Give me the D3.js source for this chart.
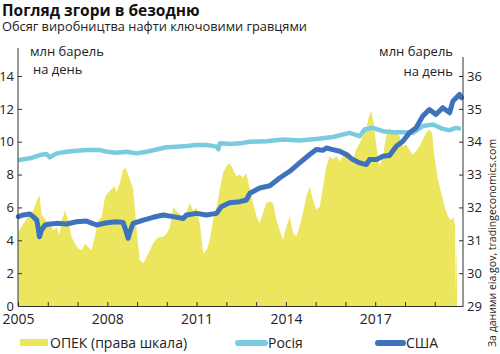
<!DOCTYPE html>
<html>
<head>
<meta charset="utf-8">
<script src="https://cdn.jsdelivr.net/npm/d3@7"></script>
<style>
  body { margin: 0; background: #fff; }
  svg { display: block; font-family: "Open Sans", sans-serif; }
</style>
</head>
<body>
<div id="chart"></div>
<script>
// OPEC, right scale (mb/d)
var opecDates = [2005.01, 2005.18, 2005.40, 2005.51, 2005.63, 2005.72, 2005.79, 2005.85, 2005.96, 2006.07,
    2006.19, 2006.30, 2006.39, 2006.47, 2006.58, 2006.69, 2006.80, 2006.91, 2007.02, 2007.14,
    2007.25, 2007.36, 2007.47, 2007.58, 2007.70, 2007.81, 2007.92, 2008.03, 2008.14, 2008.25,
    2008.31, 2008.42, 2008.53, 2008.62, 2008.76, 2008.87, 2008.98, 2009.09, 2009.21, 2009.32,
    2009.43, 2009.54, 2009.65, 2009.77, 2009.88, 2009.99, 2010.10, 2010.21, 2010.32, 2010.44,
    2010.55, 2010.66, 2010.77, 2010.88, 2011.00, 2011.11, 2011.22, 2011.33, 2011.44, 2011.55,
    2011.67, 2011.78, 2011.89, 2012.00, 2012.11, 2012.23, 2012.34, 2012.45, 2012.56, 2012.67,
    2012.79, 2012.90, 2013.01, 2013.12, 2013.23, 2013.34, 2013.46, 2013.57, 2013.68, 2013.79,
    2013.90, 2014.02, 2014.13, 2014.24, 2014.35, 2014.46, 2014.57, 2014.69, 2014.80, 2014.91,
    2015.02, 2015.14, 2015.25, 2015.36, 2015.47, 2015.58, 2015.70, 2015.81, 2015.92, 2016.03,
    2016.14, 2016.25, 2016.36, 2016.48, 2016.59, 2016.70, 2016.79, 2016.87, 2016.95, 2017.04,
    2017.15, 2017.26, 2017.37, 2017.48, 2017.59, 2017.71, 2017.82, 2017.93, 2018.04, 2018.15,
    2018.26, 2018.37, 2018.49, 2018.60, 2018.71, 2018.82, 2018.91, 2018.99, 2019.11, 2019.22,
    2019.33, 2019.44, 2019.55, 2019.63, 2019.68, 2019.71, 2019.75]
var opecValues = [31.25, 31.5, 31.8, 31.9, 32.2, 32.38, 31.8, 31.7, 31.6, 31.5,
    31.3, 31.4, 31.15, 31.6, 31.9, 31.6, 31.1, 30.9, 30.75, 30.7,
    30.9, 30.8, 30.7, 31.1, 31.6, 31.7, 32.3, 32.45, 32.55, 32.65,
    32.45, 32.75, 33.15, 33.2, 32.85, 32.55, 31.4, 30.4, 30.3, 30.5,
    30.7, 30.9, 31.05, 31.1, 31.1, 31.2, 31.4, 32.0, 31.9, 31.8,
    31.6, 31.85, 32.15, 31.9, 32.0, 31.5, 30.6, 30.7, 31.0, 31.6,
    32.0, 32.55, 33.05, 33.25, 33.35, 33.15, 32.95, 33.0, 32.9, 33.05,
    32.54, 32.13, 31.73, 31.52, 31.83, 32.13, 32.18, 32.13, 31.62, 31.32,
    31.01, 31.42, 31.73, 31.22, 31.12, 31.42, 31.83, 32.34, 32.64, 32.23,
    31.93, 32.03, 32.64, 33.25, 33.56, 33.46, 33.56, 33.40, 33.56, 33.71,
    33.66, 33.46, 33.76, 33.96, 34.17, 34.37, 34.78, 34.93, 34.57, 33.86,
    33.25, 33.56, 34.17, 34.42, 34.27, 34.37, 34.17, 33.86, 33.91, 33.76,
    33.61, 33.71, 33.86, 34.07, 34.27, 34.37, 34.27, 33.56, 32.85, 32.44,
    32.03, 31.73, 31.62, 31.7, 31.45, 29.4, 31.0]

// Russia, left scale
var russiaDates = [2005.01, 2005.40, 2005.74, 2005.96, 2006.07, 2006.30, 2006.63, 2006.97, 2007.30, 2007.75,
    2007.98, 2008.31, 2008.65, 2008.98, 2009.32, 2009.65, 2009.99, 2010.32, 2010.66, 2011.00,
    2011.33, 2011.67, 2011.73, 2011.78, 2012.11, 2012.45, 2012.79, 2013.35, 2013.90, 2014.46,
    2015.02, 2015.58, 2016.14, 2016.48, 2016.64, 2016.92, 2017.26, 2017.59, 2017.93, 2018.26,
    2018.60, 2018.94, 2019.27, 2019.50, 2019.72, 2019.88]
var russiaValues = [8.88, 8.99, 9.19, 9.25, 9.05, 9.29, 9.39, 9.45, 9.49, 9.49,
    9.39, 9.33, 9.39, 9.29, 9.39, 9.53, 9.66, 9.70, 9.74, 9.80,
    9.80, 9.70, 9.55, 9.90, 9.86, 9.90, 10.0, 10.03, 10.13, 10.07,
    10.17, 10.29, 10.54, 10.34, 10.74, 10.84, 10.64, 10.58, 10.58, 10.54,
    10.95, 11.05, 10.78, 10.70, 10.84, 10.78]

// USA, left scale
var usaDates = [2005.01, 2005.18, 2005.40, 2005.51, 2005.63, 2005.68, 2005.72, 2005.79, 2005.91, 2006.07,
    2006.30, 2006.63, 2006.97, 2007.30, 2007.64, 2007.98, 2008.31, 2008.53, 2008.62, 2008.70,
    2008.78, 2008.87, 2009.21, 2009.54, 2009.88, 2010.21, 2010.55, 2010.66, 2011.00, 2011.33,
    2011.67, 2011.83, 2012.11, 2012.45, 2012.67, 2012.79, 2013.12, 2013.46, 2013.79, 2014.13,
    2014.46, 2014.80, 2015.02, 2015.25, 2015.36, 2015.58, 2015.81, 2016.03, 2016.25, 2016.48,
    2016.70, 2016.81, 2017.04, 2017.26, 2017.48, 2017.71, 2017.93, 2018.15, 2018.37, 2018.60,
    2018.82, 2019.04, 2019.27, 2019.50, 2019.61, 2019.83, 2019.90]
var usaValues = [5.44, 5.54, 5.60, 5.44, 5.23, 4.73, 4.22, 4.62, 4.93, 4.99,
    5.03, 4.99, 5.13, 5.17, 4.93, 5.07, 5.13, 5.09, 4.62, 4.12,
    4.62, 5.03, 5.23, 5.40, 5.54, 5.44, 5.33, 5.54, 5.64, 5.54,
    5.64, 6.04, 6.29, 6.35, 6.45, 6.86, 7.18, 7.32, 7.79, 8.20,
    8.71, 9.22, 9.52, 9.48, 9.62, 9.52, 9.42, 9.22, 8.91, 8.71,
    8.61, 8.91, 8.91, 9.12, 9.16, 9.73, 10.03, 10.54, 10.84, 11.56,
    11.96, 11.66, 12.07, 11.76, 12.47, 12.88, 12.68]

var years = d3.range(2005, 2020)
var yearLabels = [2005, 2008, 2011, 2014, 2017]
var leftTicks = [0, 2, 4, 6, 8, 10, 12, 14]
var rightTicks = [29, 30, 31, 32, 33, 34, 35, 36]

var title = "Погляд згори в безодню"
var subtitle = "Обсяг виробництва нафти ключовими гравцями"
var unitLines = ["млн барель", "на день"]
var legendNames = ["ОПЕК (права шкала)", "Росія", "США"]
var source = "За даними eia.gov, tradingeconomics.com"

var colOpec = "#ece55e"
var colRussia = "#79cbe0"
var colUsa = "#3f72bd"

var width = 500
var height = 354
var margins = { top: 76, right: 37, bottom: 48, left: 18 }

var svg = d3.select("#chart").append("svg")
    .attr("width", width)
    .attr("height", height)

var x = d3.scaleLinear()
    .domain([2005, 2019.95])
    .range([margins.left, width - margins.right])
var yLeft = d3.scaleLinear()
    .domain([0, 14])
    .range([height - margins.bottom, margins.top])
var yRight = d3.scaleLinear()
    .domain([29, 36])
    .range([height - margins.bottom, margins.top])

var opec = opecDates.map((d, i) => ({ t: d, v: opecValues[i] }))
var russia = russiaDates.map((d, i) => ({ t: d, v: russiaValues[i] }))
var usa = usaDates.map((d, i) => ({ t: d, v: usaValues[i] }))

svg.append("path")
    .datum(opec)
    .attr("fill", colOpec)
    .attr("d", d3.area()
        .x(d => x(d.t))
        .y0(yRight(29))
        .y1(d => yRight(d.v)))

var lineLeft = d3.line()
    .x(d => x(d.t))
    .y(d => yLeft(d.v))

svg.append("path")
    .datum(russia)
    .attr("fill", "none")
    .attr("stroke", colRussia)
    .attr("stroke-width", 4.5)
    .attr("stroke-linejoin", "round")
    .attr("d", lineLeft)

svg.append("path")
    .datum(usa)
    .attr("fill", "none")
    .attr("stroke", colUsa)
    .attr("stroke-width", 5)
    .attr("stroke-linejoin", "round")
    .attr("stroke-linecap", "round")
    .attr("d", lineLeft)

// axes
var axisColor = "#333"
var gLeft = svg.append("g")
    .attr("transform", `translate(${margins.left},0)`)
    .call(d3.axisLeft(yLeft).tickValues(leftTicks).tickSize(-4).tickPadding(4).tickSizeOuter(0))
gLeft.select(".domain").remove()
svg.append("line")
    .attr("x1", margins.left).attr("x2", margins.left)
    .attr("y1", 48).attr("y2", yLeft(0))
    .attr("stroke", axisColor)

var gRight = svg.append("g")
    .attr("transform", `translate(${width - margins.right},0)`)
    .call(d3.axisRight(yRight).tickValues(rightTicks).tickSize(-4).tickPadding(4)
        .tickSizeOuter(0).tickFormat(d3.format("d")))
gRight.select(".domain").remove()
svg.append("line")
    .attr("x1", width - margins.right).attr("x2", width - margins.right)
    .attr("y1", 57).attr("y2", yRight(29))
    .attr("stroke", axisColor)

var gBottom = svg.append("g")
    .attr("transform", `translate(0,${height - margins.bottom})`)
    .call(d3.axisBottom(x).tickValues(years).tickSize(-4).tickPadding(8).tickSizeOuter(0)
        .tickFormat(d => yearLabels.includes(d) ? d : ""))

svg.selectAll(".tick line").attr("stroke", axisColor)
svg.selectAll(".domain").attr("stroke", axisColor)
svg.selectAll(".tick text")
    .attr("fill", "#222")
    .style("font-family", "Open Sans, sans-serif")
    .style("font-size", "13px")
gBottom.selectAll(".tick text").style("font-size", "14px")

// unit captions
svg.append("text")
    .attr("x", 30).attr("y", 56)
    .attr("font-size", 13).attr("fill", "#222")
    .text(unitLines[0])
svg.append("text")
    .attr("x", 33).attr("y", 74)
    .attr("font-size", 13).attr("fill", "#222")
    .text(unitLines[1])
svg.append("text")
    .attr("x", 453).attr("y", 56)
    .attr("text-anchor", "end")
    .attr("font-size", 13).attr("fill", "#222")
    .text(unitLines[0])
svg.append("text")
    .attr("x", 453).attr("y", 76)
    .attr("text-anchor", "end")
    .attr("font-size", 13).attr("fill", "#222")
    .text(unitLines[1])

// title
svg.append("text")
    .attr("x", 2).attr("y", 16)
    .attr("font-size", 15.5).attr("font-weight", "bold").attr("fill", "#111")
    .text(title)
svg.append("text")
    .attr("x", 2).attr("y", 31)
    .attr("font-size", 12.8).attr("fill", "#222")
    .text(subtitle)

// source, vertical
svg.append("text")
    .attr("transform", "translate(496,347) rotate(-90)")
    .attr("font-size", 10.5).attr("fill", "#222")
    .text(source)

// legend
var legend = svg.append("g").attr("transform", "translate(0,343)")
legend.append("rect")
    .attr("x", 20).attr("y", -4).attr("width", 28).attr("height", 7)
    .attr("fill", colOpec)
legend.append("text").attr("x", 50).attr("y", 5).attr("font-size", 14).attr("fill", "#222").text(legendNames[0])
legend.append("line")
    .attr("x1", 238).attr("x2", 265).attr("y1", 0).attr("y2", 0)
    .attr("stroke", colRussia).attr("stroke-width", 6).attr("stroke-linecap", "round")
legend.append("text").attr("x", 268).attr("y", 5).attr("font-size", 14).attr("fill", "#222").text(legendNames[1])
legend.append("line")
    .attr("x1", 378).attr("x2", 403).attr("y1", 0).attr("y2", 0)
    .attr("stroke", colUsa).attr("stroke-width", 6).attr("stroke-linecap", "round")
legend.append("text").attr("x", 406).attr("y", 5).attr("font-size", 14).attr("fill", "#222").text(legendNames[2])
</script>
</body>
</html>
